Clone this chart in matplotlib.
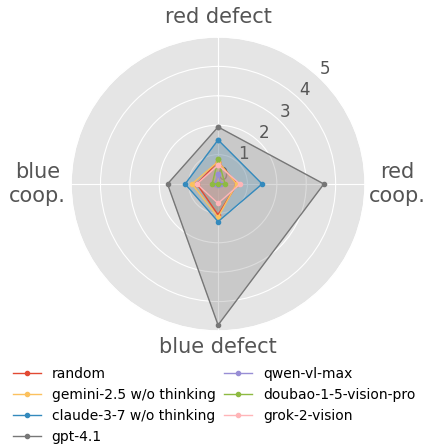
import numpy as np
import matplotlib
matplotlib.use('Agg')
import matplotlib.pyplot as plt

plt.style.use('ggplot')

# axes, clockwise from the top
categories = ['red defect', 'red\ncoop.', 'blue defect', 'blue\ncoop.']

models = ['random', 'gemini-2.5 w/o thinking', 'claude-3-7 w/o thinking',
          'gpt-4.1', 'qwen-vl-max', 'doubao-1-5-vision-pro', 'grok-2-vision']
colors = ['#E24A33', '#FBC15E', '#348ABD', '#777777',
          '#988ED5', '#8EBA42', '#FFB5B8']

random_vals = [0.76, 0.65, 1.05, 0.72]
gemini_vals = [0.76, 0.63, 1.13, 0.89]
claude_vals = [1.50, 1.50, 1.28, 1.12]
gpt_vals = [1.94, 3.60, 4.80, 1.72]
qwen_vals = [0.33, 0.10, 0.05, 0.10]
doubao_vals = [0.84, 0.24, 0.00, 0.20]
grok_vals = [0.64, 0.75, 0.66, 0.72]

series = [random_vals, gemini_vals, claude_vals, gpt_vals,
          qwen_vals, doubao_vals, grok_vals]

r_ticks = [0, 1, 2, 3, 4, 5]


def main():
    fig = plt.figure(figsize=(4.28, 4.46), dpi=100)
    ax = fig.add_axes([0.166, 0.258, 0.687, 0.659], projection='polar')
    ax.set_theta_zero_location('N')
    ax.set_theta_direction(-1)

    n = len(categories)
    angles = np.linspace(0, 2 * np.pi, n, endpoint=False)
    closed = np.concatenate([angles, angles[:1]])

    for name, vals, c in zip(models, series, colors):
        v = np.concatenate([vals, vals[:1]])
        ax.plot(closed, v, color=c, linewidth=1, marker='o', markersize=3,
                label=name)
        ax.fill(closed, v, color=c, alpha=0.25)

    ax.set_xticks(angles)
    ax.set_xticklabels([])
    # category names, placed just outside the circle
    label_r = [5.68, 6.1, 5.55, 6.15]
    for a, cat, r in zip(angles, categories, label_r):
        ax.text(a, r, cat, fontsize=15, color='#555555', ha='center',
                va='center', linespacing=1.25, clip_on=False)

    ax.set_ylim(0, 5)
    ax.set_yticks(r_ticks)
    ax.set_yticklabels([str(t) for t in r_ticks], fontsize=12, color='#555555')
    ax.set_rlabel_position(44)

    fig.legend(loc='upper center', bbox_to_anchor=(0.5, 0.205), ncol=2,
               frameon=False, fontsize=10, columnspacing=0.6)

    fig.savefig('out.png', dpi=100)
    plt.close(fig)


if __name__ == '__main__':
    main()
